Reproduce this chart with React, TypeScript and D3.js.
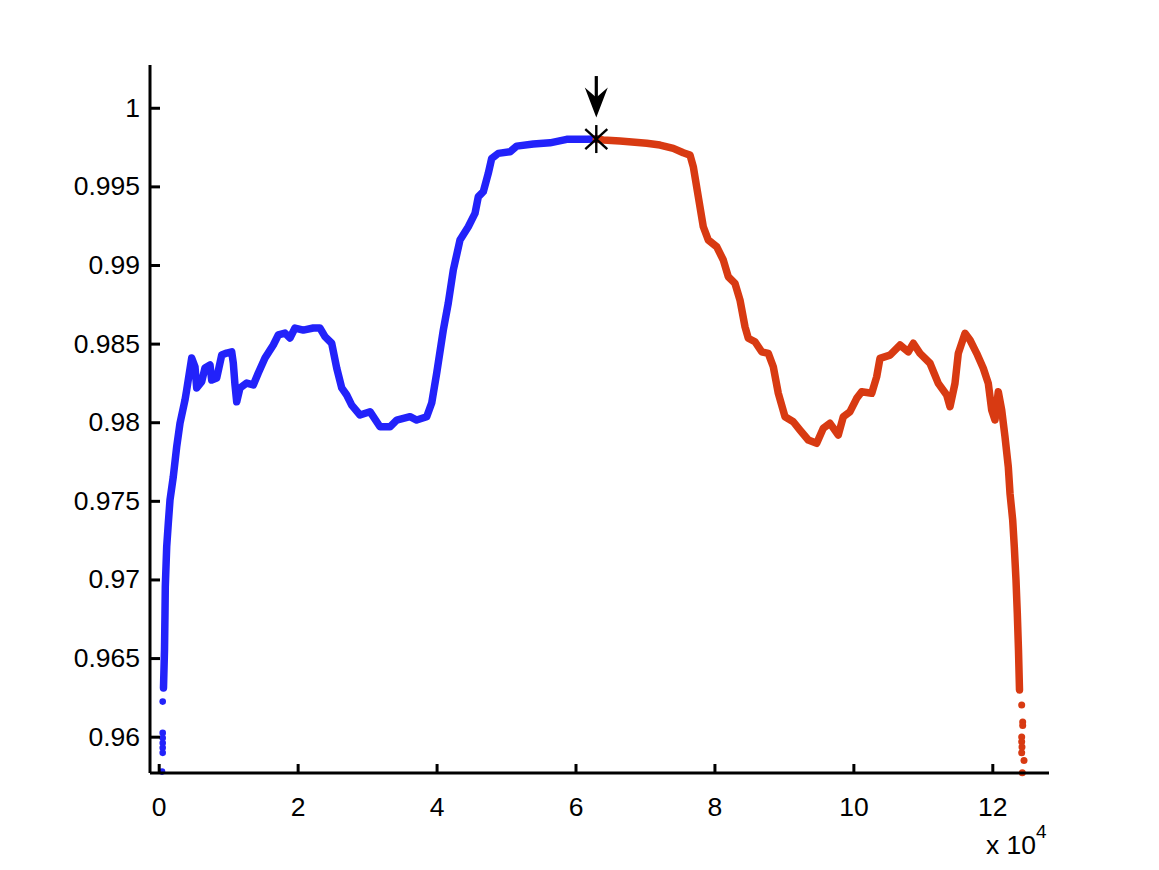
import * as d3 from "d3";
import { useEffect, useRef } from "react";

// rising part, plotted in blue (x, value)
const blueTrace: [number, number][] = [
  [690, 0.9631], [835, 0.96551], [907, 0.96787], [950, 0.96954], [1051, 0.97081],
  [1152, 0.97208], [1382, 0.97357], [1627, 0.97505], [2102, 0.97654], [2591, 0.97844],
  [3066, 0.97993], [3786, 0.98141], [4031, 0.98205], [4750, 0.98408], [5225, 0.98353],
  [5470, 0.98218], [6190, 0.98258], [6665, 0.98345], [7385, 0.98364], [7629, 0.98268],
  [8349, 0.98281], [9069, 0.98427], [9789, 0.9844], [10508, 0.98448], [10739, 0.98377],
  [10983, 0.98237], [11228, 0.9813], [11703, 0.98218], [12668, 0.98249], [13618, 0.98237],
  [14337, 0.98313], [15302, 0.98408], [16497, 0.98491], [17216, 0.98555], [18181, 0.98567],
  [18901, 0.98536], [19620, 0.98599], [20815, 0.98586], [22255, 0.98599], [23219, 0.98599],
  [23939, 0.98544], [24903, 0.98502], [25623, 0.98345], [26343, 0.98218], [27063, 0.98173],
  [27782, 0.98109], [28977, 0.98046], [30417, 0.98067], [31856, 0.97971], [33296, 0.97971],
  [34260, 0.98014], [36175, 0.98035], [37139, 0.98014], [38579, 0.98035], [39298, 0.98122],
  [40018, 0.98313], [40968, 0.98586], [41688, 0.98758], [42408, 0.98968], [43372, 0.99159],
  [44567, 0.99243], [45532, 0.99328], [46007, 0.99434], [46727, 0.99466], [47446, 0.99583],
  [47935, 0.99678], [48885, 0.9971], [50570, 0.9972], [51534, 0.99756], [53924, 0.99769],
  [56328, 0.99777], [58732, 0.99799], [61611, 0.99799], [62993, 0.99801],
];

// falling part, plotted in red
const redTrace: [number, number][] = [
  [62993, 0.99801], [64000, 0.99795], [66404, 0.99788], [70248, 0.99774], [72162, 0.99763],
  [74077, 0.99742], [75516, 0.99714], [76481, 0.99699], [76956, 0.99625], [77676, 0.99434],
  [78396, 0.99243], [79115, 0.99159], [80324, 0.99116], [81274, 0.99032], [81994, 0.98925],
  [82958, 0.98883], [83678, 0.98777], [84398, 0.98607], [84873, 0.98534], [85837, 0.98512],
  [86802, 0.98448], [87752, 0.98438], [88472, 0.98353], [89191, 0.98184], [90156, 0.98035],
  [91351, 0.98003], [92315, 0.9795], [93510, 0.97887], [94719, 0.97866], [95669, 0.97961],
  [96634, 0.97993], [97828, 0.97919], [98548, 0.98035], [99513, 0.98067], [100477, 0.98152],
  [101197, 0.98194], [102636, 0.98184], [103356, 0.98289], [103831, 0.98406], [105271, 0.98427],
  [106710, 0.98491], [107905, 0.98448], [108625, 0.98502], [109589, 0.98438], [111029, 0.98375],
  [112223, 0.98247], [113433, 0.98173], [113908, 0.98099], [114627, 0.98247], [115102, 0.98438],
  [116067, 0.98565], [116787, 0.98523], [117751, 0.98438], [118701, 0.98343], [119421, 0.98247],
  [119910, 0.98078], [120385, 0.98014], [120860, 0.98194], [121350, 0.98078], [121825, 0.97908],
  [122300, 0.97717], [122545, 0.97548], [122933, 0.97378], [123164, 0.97208], [123408, 0.96997],
  [123596, 0.96785], [123768, 0.96551], [123912, 0.96297],
];

// loose dots at the two ends
const blueTail: [number, number][] = [
  [576, 0.96223], [576, 0.96024], [576, 0.95992], [576, 0.9596], [576, 0.95929],
  [576, 0.95897], [475, 0.95778],
];
const redTail: [number, number][] = [
  [124229, 0.96202], [124373, 0.96094], [124373, 0.96071], [124229, 0.95998],
  [124229, 0.95967], [124271, 0.95935], [124229, 0.95897], [124563, 0.95848],
  [124315, 0.95771],
];

const peak: [number, number] = [62993, 0.99801];

const xTicks = [0, 20000, 40000, 60000, 80000, 100000, 120000];
const yTicks = [0.96, 0.965, 0.97, 0.975, 0.98, 0.985, 0.99, 0.995, 1];

const App = () => {
  const svgRef = useRef<SVGSVGElement | null>(null);

  useEffect(() => {
    document.body.style.margin = "0";
    const W = 1159;
    const H = 870;
    const margin = { top: 65, right: 110, bottom: 97, left: 150 };
    const font = "'Liberation Sans', Arial, Helvetica, sans-serif";
    const blue = "#2222fa";
    const red = "#d83a12";

    d3.select(svgRef.current).selectAll("*").remove();
    const svg = d3
      .select(svgRef.current)
      .attr("width", W)
      .attr("height", H)
      .style("display", "block")
      .style("background", "#fff");

    const x = d3
      .scaleLinear()
      .domain([-1252, 128160])
      .range([margin.left, W - margin.right]);
    const y = d3
      .scaleLinear()
      .domain([0.95769, 1.00272])
      .range([H - margin.bottom, margin.top]);

    const line = d3
      .line<[number, number]>()
      .x((d) => x(d[0]))
      .y((d) => y(d[1]));

    const plot = svg.append("g");

    plot
      .append("path")
      .datum(blueTrace)
      .attr("fill", "none")
      .attr("stroke", blue)
      .attr("stroke-width", 7.5)
      .attr("stroke-linejoin", "round")
      .attr("stroke-linecap", "round")
      .attr("d", line);

    plot
      .selectAll(".btail")
      .data(blueTail)
      .enter()
      .append("circle")
      .attr("class", "btail")
      .attr("cx", (d) => x(d[0]))
      .attr("cy", (d) => y(d[1]))
      .attr("r", 3.3)
      .attr("fill", blue);

    plot
      .append("path")
      .datum(redTrace)
      .attr("fill", "none")
      .attr("stroke", red)
      .attr("stroke-width", 7.5)
      .attr("stroke-linejoin", "round")
      .attr("stroke-linecap", "round")
      .attr("d", line);

    plot
      .selectAll(".rtail")
      .data(redTail)
      .enter()
      .append("circle")
      .attr("class", "rtail")
      .attr("cx", (d) => x(d[0]))
      .attr("cy", (d) => y(d[1]))
      .attr("r", 3.5)
      .attr("fill", red);

    // star marker at the peak
    const px = x(peak[0]);
    const py = y(peak[1]);
    const star = svg.append("g").attr("stroke", "#000").attr("stroke-width", 2.4);
    star.append("line").attr("x1", px).attr("x2", px).attr("y1", py - 14).attr("y2", py + 14);
    star.append("line").attr("x1", px - 11).attr("x2", px + 11).attr("y1", py - 10).attr("y2", py + 10);
    star.append("line").attr("x1", px - 11).attr("x2", px + 11).attr("y1", py + 10).attr("y2", py - 10);

    // arrow pointing at the peak
    const tip = py - 21.5;
    svg
      .append("line")
      .attr("x1", px)
      .attr("x2", px)
      .attr("y1", py - 63)
      .attr("y2", tip - 8)
      .attr("stroke", "#000")
      .attr("stroke-width", 3.2);
    svg
      .append("path")
      .attr(
        "d",
        `M${px - 11.5},${tip - 30} L${px},${tip - 20} L${px + 11.5},${tip - 30} L${px},${tip} Z`
      )
      .attr("fill", "#000");

    // axes (ticks point inward)
    const gX = svg
      .append("g")
      .attr("transform", `translate(0, ${H - margin.bottom})`)
      .call(
        d3
          .axisBottom(x)
          .tickValues(xTicks)
          .tickSize(-9)
          .tickPadding(24)
          .tickFormat((d) => `${(d as number) / 10000}`)
      );
    const gY = svg
      .append("g")
      .attr("transform", `translate(${margin.left}, 0)`)
      .call(
        d3
          .axisLeft(y)
          .tickValues(yTicks)
          .tickSize(-10)
          .tickPadding(10)
          .tickFormat((d) => `${d}`)
      );

    [gX, gY].forEach((g) => {
      g.select(".domain").attr("stroke", "#000").attr("stroke-width", 3);
      g.selectAll(".tick line").attr("stroke", "#000").attr("stroke-width", 3);
      g.selectAll(".tick text")
        .attr("fill", "#000")
        .style("font-family", font)
        .style("font-size", "26.5px");
    });
    gX.select(".domain").attr("d", `M${margin.left},0H${W - margin.right}`);
    gY.select(".domain").attr("d", `M0,${H - margin.bottom}V${margin.top}`);

    // exponent label
    const expo = svg
      .append("text")
      .attr("x", 986)
      .attr("y", 854)
      .attr("fill", "#000")
      .style("font-family", font)
      .style("font-size", "26.5px");
    expo.append("tspan").text("x 10");
    expo
      .append("tspan")
      .attr("dy", -16)
      .style("font-size", "19px")
      .text("4");
  }, []);

  return <svg ref={svgRef}></svg>;
};

export default App;
